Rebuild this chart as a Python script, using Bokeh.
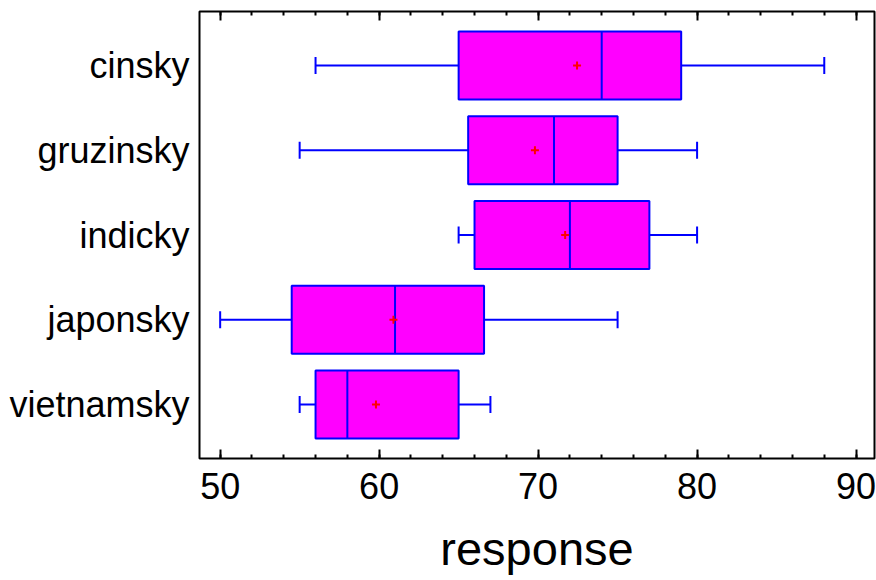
from bokeh.plotting import figure
from bokeh.models import (ColumnDataSource, Range1d, LinearAxis, SingleIntervalTicker,
                          FixedTicker)
from bokeh.embed import file_html
from bokeh.resources import INLINE

categories = ["cinsky", "gruzinsky", "indicky", "japonsky", "vietnamsky"]
whisker_low = [56, 55, 65, 50, 55]
q1 = [65, 65.6, 66, 54.5, 56]
median = [74, 71, 72, 61, 58]
q3 = [79, 75, 77, 66.6, 65]
whisker_high = [88, 80, 80, 75, 67]
mean = [72.45, 69.8, 71.7, 60.9, 59.8]
x_ticks = [50, 60, 70, 80, 90]

n = len(categories)
ypos = [n - i for i in range(n)]
box_h = 0.8
cap_h = 0.1

src = ColumnDataSource(dict(
    y=ypos, cat=categories, wl=whisker_low, q1=q1, med=median, q3=q3,
    wh=whisker_high, mean=mean,
    ylo=[v - box_h / 2 for v in ypos], yhi=[v + box_h / 2 for v in ypos],
    clo=[v - cap_h for v in ypos], chi=[v + cap_h for v in ypos],
))

FONT = "Liberation Sans"

p = figure(width=876, height=580, output_backend="svg", toolbar_location=None,
           x_range=Range1d(48.7, 91.16), y_range=Range1d(0.363, 5.637),
           min_border_left=199, min_border_right=2, min_border_top=11,
           min_border_bottom=122, x_axis_location=None, y_axis_location=None)
p.background_fill_color = "white"
p.border_fill_color = "white"
p.xgrid.visible = False
p.ygrid.visible = False
p.outline_line_color = "black"
p.outline_line_width = 2

BLUE = "#0000FF"
# whiskers
p.segment(x0="wl", y0="y", x1="q1", y1="y", source=src, line_color=BLUE, line_width=2)
p.segment(x0="q3", y0="y", x1="wh", y1="y", source=src, line_color=BLUE, line_width=2)
p.segment(x0="wl", y0="clo", x1="wl", y1="chi", source=src, line_color=BLUE, line_width=2)
p.segment(x0="wh", y0="clo", x1="wh", y1="chi", source=src, line_color=BLUE, line_width=2)
# boxes
p.hbar(y="y", left="q1", right="q3", height=box_h, source=src,
       fill_color="#FF00FF", line_color=BLUE, line_width=2)
# medians
p.segment(x0="med", y0="ylo", x1="med", y1="yhi", source=src, line_color=BLUE, line_width=2)
# means
p.scatter(x="mean", y="y", source=src, marker="cross", size=8,
          line_color="#FF0000", line_width=2)

def style_x(ax, labels=True):
    ax.ticker = SingleIntervalTicker(interval=10, num_minor_ticks=5)
    ax.axis_line_color = None
    ax.major_tick_in = 9
    ax.major_tick_out = 0
    ax.minor_tick_in = 4
    ax.minor_tick_out = 0
    ax.major_tick_line_color = "black"
    ax.major_tick_line_width = 2
    ax.minor_tick_line_color = "black"
    ax.minor_tick_line_width = 2
    ax.major_label_text_font = FONT
    ax.major_label_text_color = "black"
    if labels:
        ax.major_label_text_font_size = "36px"
        ax.major_label_standoff = 14
    else:
        ax.major_label_overrides = {t: "" for t in range(40, 101, 10)}
        ax.major_label_text_font_size = "1px"
        ax.major_label_standoff = 0

xb = LinearAxis()
style_x(xb)
xb.axis_label = "response"
xb.axis_label_text_font = FONT
xb.axis_label_text_font_size = "47px"
xb.axis_label_text_font_style = "normal"
xb.axis_label_text_color = "black"
xb.axis_label_standoff = 20
p.add_layout(xb, "below")

xt = LinearAxis()
style_x(xt, labels=False)
p.add_layout(xt, "above")

ya = LinearAxis(ticker=FixedTicker(ticks=ypos))
ya.major_label_overrides = {v: c for v, c in zip(ypos, categories)}
ya.axis_line_color = None
ya.major_tick_line_color = None
ya.minor_tick_line_color = None
ya.major_tick_in = 0
ya.major_tick_out = 0
ya.major_label_text_font = FONT
ya.major_label_text_font_size = "36px"
ya.major_label_text_color = "black"
ya.major_label_standoff = 10
p.add_layout(ya, "left")

open("out.html", "w").write(file_html(p, INLINE))
